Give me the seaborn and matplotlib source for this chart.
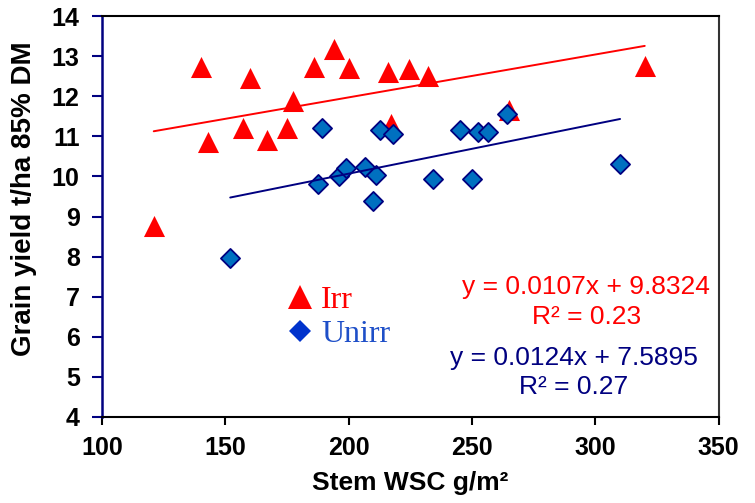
import matplotlib
matplotlib.use("Agg")
import matplotlib.pyplot as plt
import seaborn as sns
import numpy as np
import pandas as pd
from matplotlib.lines import Line2D

# ---- data ----
irr_x = [121, 140, 143, 157, 160, 167, 175, 177.5, 186, 194, 200, 216, 217, 224.5, 232, 265, 320]
irr_y = [8.77, 12.74, 10.85, 11.2, 12.45, 10.9, 11.21, 11.88, 12.73, 13.19, 12.7, 12.6, 11.3, 12.69, 12.51, 11.66, 12.75]
unirr_x = [152, 187.5, 189, 196, 199, 206.5, 210, 211, 212.6, 218, 234, 245, 250, 252.5, 256.5, 264, 310]
unirr_y = [7.97, 9.8, 11.2, 10.0, 10.2, 10.24, 9.4, 10.03, 11.16, 11.06, 9.93, 11.16, 9.93, 11.11, 11.11, 11.55, 10.3]

irr_fit = {"slope": 0.0107, "intercept": 9.8324, "r2": 0.23}
unirr_fit = {"slope": 0.0124, "intercept": 7.5895, "r2": 0.27}

series_names = ["Irr", "Unirr"]
x_ticks = [100, 150, 200, 250, 300, 350]
y_ticks = [4, 5, 6, 7, 8, 9, 10, 11, 12, 13, 14]

RED = "#FF0000"
NAVY = "#000080"
DFILL = "#0070C0"
LEG_BLUE = "#1E4FC8"

sns.set_style("white")
plt.rcParams["font.family"] = ["Liberation Sans", "DejaVu Sans"]

fig = plt.figure(figsize=(7.55, 5.03), dpi=100)
ax = fig.add_axes([0.135, 0.171, 0.817, 0.797])

df_irr = pd.DataFrame({"x": irr_x, "y": irr_y})
df_un = pd.DataFrame({"x": unirr_x, "y": unirr_y})

sns.scatterplot(data=df_irr, x="x", y="y", marker="^", s=230, color=RED,
                linewidth=0, ax=ax, zorder=2, legend=False)
sns.scatterplot(data=df_un, x="x", y="y", marker="D", s=95, color=DFILL,
                edgecolor=NAVY, linewidth=1.3, ax=ax, zorder=3, legend=False)

def fit_line(xs, fit):
    xx = np.array([min(xs), max(xs)])
    return pd.DataFrame({"x": xx, "y": fit["slope"] * xx + fit["intercept"]})

sns.lineplot(data=fit_line(irr_x, irr_fit), x="x", y="y", color=RED, linewidth=1.4, ax=ax, zorder=4)
sns.lineplot(data=fit_line(unirr_x, unirr_fit), x="x", y="y", color=NAVY, linewidth=1.4, ax=ax, zorder=4)

ax.set_xlim(100, 350)
ax.set_ylim(4, 14)
ax.set_xticks(x_ticks)
ax.set_yticks(y_ticks)
ax.set_xticklabels([str(v) for v in x_ticks], fontsize=18, fontweight="bold", color="black")
ax.set_yticklabels([str(v) for v in y_ticks], fontsize=18, fontweight="bold", color="black")
ax.set_xlabel("Stem WSC g/m²", fontsize=19, fontweight="bold", color="black")
ax.set_ylabel("Grain yield t/ha 85% DM", fontsize=20, fontweight="bold", color="black")
ax.xaxis.set_label_coords(0.5, -0.135)
ax.yaxis.set_label_coords(-0.105, 0.544)

for side in ["top", "right", "bottom"]:
    ax.spines[side].set_color("black")
    ax.spines[side].set_linewidth(1.5)
ax.spines["right"].set_color("#333333")
ax.spines["left"].set_color(NAVY)
ax.spines["left"].set_linewidth(1.8)
ax.tick_params(axis="y", direction="out", length=7, width=1.5, color=NAVY, left=True, pad=9)
ax.tick_params(axis="x", direction="out", length=6, width=1.5, color="black", bottom=True, pad=8)

# equations
ax.text(0.785, 0.325, f"y = {irr_fit['slope']}x + {irr_fit['intercept']}", transform=ax.transAxes,
        color=RED, fontsize=19, ha="center", va="center")
ax.text(0.785, 0.25, f"R² = {irr_fit['r2']}", transform=ax.transAxes,
        color=RED, fontsize=19, ha="center", va="center")
ax.text(0.765, 0.148, f"y = {unirr_fit['slope']}x + {unirr_fit['intercept']}", transform=ax.transAxes,
        color=NAVY, fontsize=19, ha="center", va="center")
ax.text(0.765, 0.075, f"R² = {unirr_fit['r2']}", transform=ax.transAxes,
        color=NAVY, fontsize=19, ha="center", va="center")

handles = [Line2D([], [], marker="^", linestyle="none", color=RED, markersize=17, markeredgewidth=0),
           Line2D([], [], marker="D", linestyle="none", color="#0033CC", markersize=11, markeredgewidth=0)]
leg = ax.legend(handles, series_names, loc="upper left", bbox_to_anchor=(0.27, 0.36),
                frameon=False, prop={"family": ["Liberation Serif"], "size": 23},
                handletextpad=0.05, labelspacing=0.15, handlelength=1.2, borderaxespad=0)
for t, c in zip(leg.get_texts(), [RED, LEG_BLUE]):
    t.set_color(c)

fig.savefig("out.png", dpi=100)
